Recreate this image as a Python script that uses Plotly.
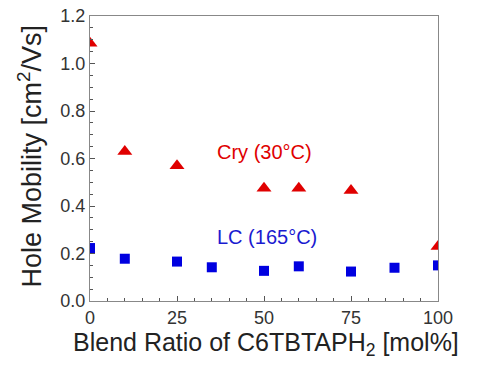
import plotly.graph_objects as go

cry_x = [0, 10, 25, 50, 60, 75, 100]
cry_y = [1.085, 0.63, 0.57, 0.475, 0.475, 0.465, 0.23]
lc_x = [0, 10, 25, 35, 50, 60, 75, 87.5, 100]
lc_y = [0.223, 0.178, 0.166, 0.142, 0.127, 0.146, 0.124, 0.14, 0.15]

x_ticks = [0, 25, 50, 75, 100]
y_ticks = [0.0, 0.2, 0.4, 0.6, 0.8, 1.0, 1.2]

font = "Liberation Sans, Arial, sans-serif"

fig = go.Figure()
fig.add_trace(go.Scatter(x=cry_x, y=cry_y, mode="markers",
                         marker=dict(symbol="triangle-up", size=13, color="#e00000"),
                         cliponaxis=True, showlegend=False))
fig.add_trace(go.Scatter(x=lc_x, y=lc_y, mode="markers",
                         marker=dict(symbol="square", size=10, color="#0000e0"),
                         cliponaxis=True, showlegend=False))

fig.add_annotation(x=50.1, y=0.627, xref="x", yref="y", text="Cry (30°C)", showarrow=False,
                   font=dict(family=font, size=20, color="#e00000"))
fig.add_annotation(x=51, y=0.27, xref="x", yref="y", text="LC (165°C)", showarrow=False,
                   font=dict(family=font, size=20, color="#1a1ad0"))

# axis titles
fig.add_annotation(x=0.506, y=-0.152, xref="paper", yref="paper",
                   text="Blend Ratio of C6TBTAPH<sub>2</sub> [mol%]", showarrow=False,
                   xanchor="center", yanchor="middle",
                   font=dict(family=font, size=25, color="#222"))
fig.add_annotation(x=-0.175, y=0.507, xref="paper", yref="paper", textangle=-90,
                   text="Hole Mobility [cm<sup>2</sup>/Vs]", showarrow=False,
                   xanchor="center", yanchor="middle",
                   font=dict(family=font, size=27, color="#222"))

axis_common = dict(showgrid=False, zeroline=False, showline=True, linecolor="#888",
                   linewidth=1, mirror=True, ticks="inside", ticklen=5, tickcolor="#555",
                   automargin=False, ticklabeloverflow="allow",
                   tickfont=dict(family=font, size=18, color="#333"))

fig.update_xaxes(range=[0, 100], tickvals=x_ticks, ticktext=[str(v) for v in x_ticks],
                 minor=dict(dtick=5, tick0=0, ticks="inside", ticklen=3, tickcolor="#555"),
                 **axis_common)
fig.update_yaxes(range=[0, 1.2], tickvals=y_ticks, ticktext=[f"{v:.1f}" for v in y_ticks],
                 minor=dict(dtick=0.05, tick0=0, ticks="inside", ticklen=3, tickcolor="#555"),
                 **axis_common)

fig.update_layout(width=471, height=360, margin=dict(l=82, r=41, t=8, b=67),
                  plot_bgcolor="white", paper_bgcolor="white")

fig.write_html("out.html")
